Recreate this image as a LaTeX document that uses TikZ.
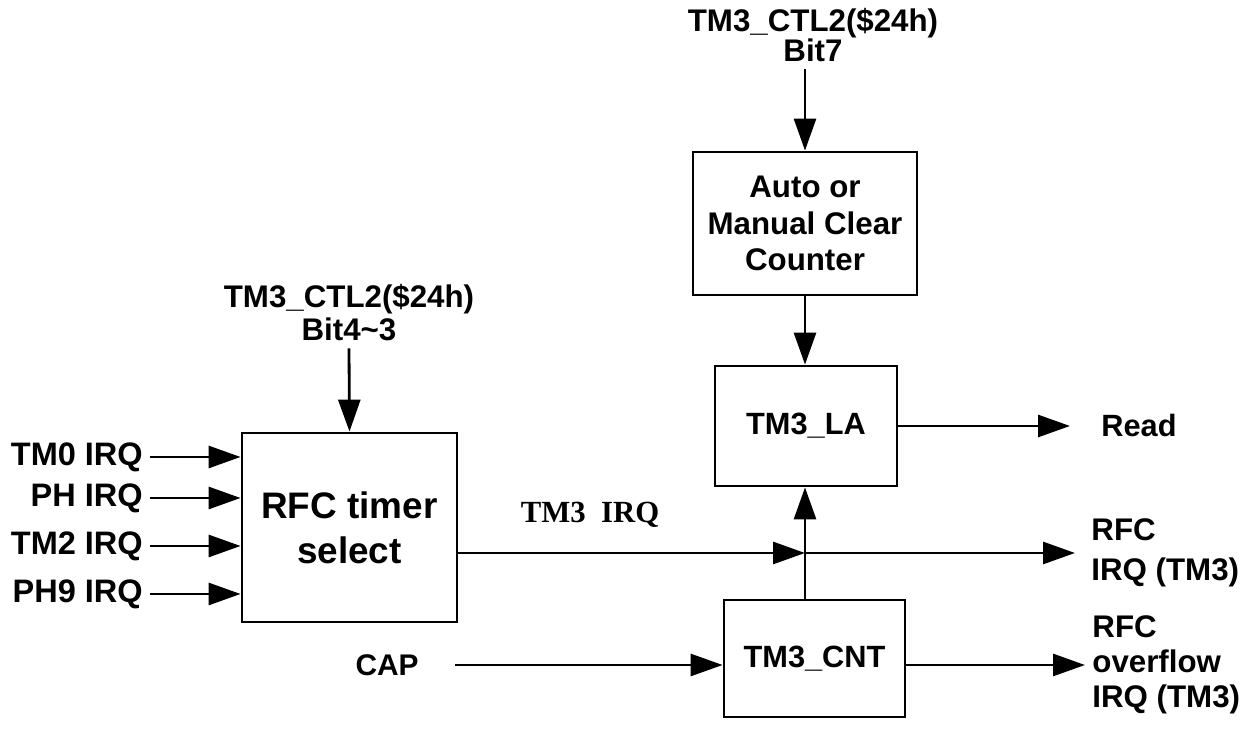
\documentclass[tikz,border=0pt]{standalone}
\usepackage{fontspec}
\setmainfont{Liberation Sans}
\newfontfamily\serifbf{Liberation Serif}
\usetikzlibrary{arrows.meta}

\begin{document}
\begin{tikzpicture}[
  font=\fontsize{17.5}{20}\selectfont\bfseries,
  line width=1.6pt,
  blk/.style={draw, line width=1.6pt, align=center},
  lbl/.style={align=center},
  inp/.style={anchor=east, font=\fontsize{18.5}{20}\selectfont\bfseries},
  arr/.style={-{Triangle[length=6.4mm, width=4.4mm]}}
]
\useasboundingbox (0,0) rectangle (25.02,14.76);

\node[blk, minimum width=4.3cm, minimum height=3.78cm, font=\fontsize{21}{25.5}\selectfont\bfseries] (sel) at (6.99,4.21) {RFC timer\\select};
\node[blk, minimum width=4.48cm, minimum height=2.86cm, font=\fontsize{17.8}{21}\selectfont\bfseries] (clr) at (16.10,10.29) {Auto or\\Manual Clear\\Counter};
\node[blk, minimum width=3.64cm, minimum height=2.4cm] (la) at (16.12,6.24) {TM3\_LA};
\node[blk, minimum width=3.62cm, minimum height=2.34cm] (cnt) at (16.29,1.59) {TM3\_CNT};

\node[lbl, font=\fontsize{17.8}{18.7}\selectfont\bfseries] (ctla) at (6.98,8.50) {TM3\_CTL2(\$24h)\\Bit4\textasciitilde3};
\node[lbl, font=\fontsize{17.8}{17}\selectfont\bfseries] (ctlb) at (16.26,14.06) {TM3\_CTL2(\$24h)\\Bit7};

\node[inp] (tm0) at (3.0,5.62) {TM0 IRQ};
\node[inp] (ph) at (3.0,4.80) {PH IRQ};
\node[inp] (tm2) at (3.0,3.84) {TM2 IRQ};
\node[inp] (ph9) at (3.0,2.88) {PH9 IRQ};

\coordinate (jn) at (16.10,3.70);
\node[font=\serifbf\fontsize{17.5}{20}\selectfont\bfseries] (irq) at (11.8,4.46) {TM3\ \ IRQ};
\node[lbl, anchor=west, inner xsep=0.6cm] (rd) at (21.4,6.24) {Read};
\node[lbl, anchor=west, align=left, inner xsep=0.3cm, font=\fontsize{17.8}{22.7}\selectfont\bfseries] (rfcirq) at (21.5,3.70) {RFC\\IRQ (TM3)};
\node[lbl, anchor=east, inner xsep=0.7cm, font=\fontsize{17}{20}\selectfont\bfseries] (cap) at (9.1,1.46) {CAP};
\node[lbl, anchor=west, align=left, inner xsep=0.12cm, font=\fontsize{17.8}{19.8}\selectfont\bfseries] (ovf) at (21.7,1.46) {RFC\\overflow\\IRQ (TM3)};

% inputs of the timer select
\draw[arr] (tm0.east) -- (tm0.east -| sel.west);
\draw[arr] (ph.east) -- (ph.east -| sel.west);
\draw[arr] (tm2.east) -- (tm2.east -| sel.west);
\draw[arr] (ph9.east) -- (ph9.east -| sel.west);
\draw[arr] (ctla.south) -- (sel.north);

% latch path
\draw[arr] (ctlb.south -| clr.north) -- (clr.north);
\draw[arr] (clr.south) -- (clr.south |- la.north);
\draw[arr] (la.east) -- (rd.west);
\draw[arr] (sel.east |- jn) -- (jn);
\draw[arr] (jn) -- (rfcirq.west);
\draw[arr] (cnt.north -| jn) -- (la.south -| jn);

% counter
\draw[arr] (cap.east) -- (cap.east -| cnt.west);
\draw[arr] (cap.east -| cnt.east) -- (ovf.west);
\end{tikzpicture}
\end{document}
